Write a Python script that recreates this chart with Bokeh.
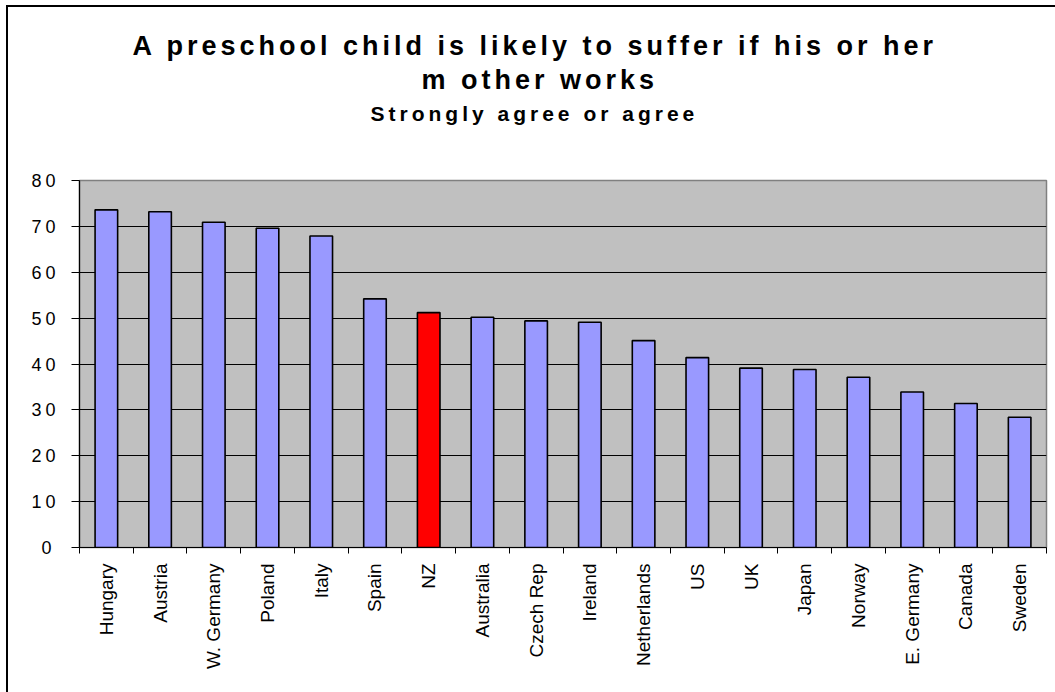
from bokeh.plotting import figure
from bokeh.layouts import column, row
from bokeh.models import ColumnDataSource, FixedTicker, Range1d
from bokeh.core.properties import value
from bokeh.embed import file_html
from bokeh.resources import INLINE

# Share of respondents who strongly agree or agree (%)
countries = ["Hungary", "Austria", "W. Germany", "Poland", "Italy", "Spain", "NZ",
             "Australia", "Czech Rep", "Ireland", "Netherlands", "US", "UK", "Japan",
             "Norway", "E. Germany", "Canada", "Sweden"]
agree = [73.6, 73.2, 70.9, 69.6, 67.9, 54.2, 51.2, 50.2, 49.4, 49.1, 45.1, 41.4,
         39.1, 38.8, 37.1, 33.9, 31.4, 28.4]
highlight = "NZ"
y_ticks = [0, 10, 20, 30, 40, 50, 60, 70, 80]

title_lines = ["A preschool child is likely to suffer if his or her", "m other works"]
subtitle = "Strongly agree or agree"

FONT = "Liberation Sans"
W = 1047            # inner width (inside the chart border)
TITLE_H = 150
MAIN_H = 535
TOP_PAD, BOTTOM_PAD = 23, 145
LABEL_W = 60        # strip carrying the value labels

# ---- heading block -------------------------------------------------------
head = figure(width=W, height=TITLE_H, output_backend="svg", toolbar_location=None,
              x_range=Range1d(0, W), y_range=Range1d(TITLE_H, 0),
              x_axis_type=None, y_axis_type=None, min_border=0,
              outline_line_color=None, background_fill_color="white",
              border_fill_color="white", styles={"letter-spacing": "4px"})
head.text(x=[124, 413], y=[38, 72], text=title_lines,
          text_align="left", text_baseline="middle", text_font=value(FONT),
          text_font_style="bold", text_font_size="27px", text_color="black")
head.text(x=[362], y=[106], text=[subtitle],
          text_align="left", text_baseline="middle", text_font=value(FONT),
          text_font_style="bold", text_font_size="21px", text_color="black")

# ---- bar chart -----------------------------------------------------------
n = len(countries)
centers = [i + 0.5 for i in range(n)]
colors = ["#FF0000" if c == highlight else "#9999FF" for c in countries]
src = ColumnDataSource(dict(x=centers, top=agree, color=colors, name=countries))

y_range = Range1d(0, 80)
p = figure(width=W - LABEL_W, height=MAIN_H, output_backend="svg", toolbar_location=None,
           x_range=Range1d(0, n), y_range=y_range,
           min_border_left=79 - 8 - LABEL_W, min_border_right=9,
           min_border_top=TOP_PAD, min_border_bottom=BOTTOM_PAD,
           background_fill_color="#C0C0C0", border_fill_color="white")
p.outline_line_color = "#808080"
p.outline_line_width = 1.5

p.vbar(x="x", top="top", width=0.42, bottom=0, source=src,
       fill_color="color", line_color="black", line_width=1.6)

# x axis: labels at bar centres, ticks on category boundaries
xa = p.xaxis[0]
xa.ticker = FixedTicker(ticks=centers, minor_ticks=list(range(n + 1)))
xa.major_label_overrides = {c: name for c, name in zip(centers, countries)}
xa.major_label_orientation = 1.5708
xa.major_tick_out = 0
xa.major_tick_in = 0
xa.minor_tick_out = 6
xa.minor_tick_in = 0
xa.minor_tick_line_color = "black"
xa.axis_line_color = "black"
xa.axis_line_width = 1.2
xa.major_label_text_font = FONT
xa.major_label_text_font_size = "19px"
xa.major_label_text_color = "black"
xa.major_label_standoff = 10

# y axis line and ticks; the values are written in the strip on the left
ya = p.yaxis[0]
ya.ticker = FixedTicker(ticks=y_ticks)
ya.minor_tick_line_color = None
ya.major_tick_out = 8
ya.major_tick_in = 0
ya.major_tick_line_color = "black"
ya.axis_line_color = "black"
ya.axis_line_width = 1.2
ya.major_label_overrides = {t: "" for t in y_ticks}
ya.major_label_standoff = 0

p.xgrid.grid_line_color = None
p.ygrid.ticker = FixedTicker(ticks=y_ticks[1:-1])
p.ygrid.grid_line_color = "black"
p.ygrid.grid_line_width = 1.2

# value labels, letter-spaced
lab = figure(width=LABEL_W, height=MAIN_H, output_backend="svg", toolbar_location=None,
             x_range=Range1d(0, 1), y_range=y_range, x_axis_type=None,
             min_border_left=LABEL_W - 1, min_border_right=0,
             min_border_top=TOP_PAD, min_border_bottom=BOTTOM_PAD,
             outline_line_color=None, background_fill_color="white",
             border_fill_color="white", styles={"letter-spacing": "4px"})
la = lab.yaxis[0]
la.ticker = FixedTicker(ticks=y_ticks)
la.axis_line_color = None
la.major_tick_line_color = None
la.minor_tick_line_color = None
la.major_tick_out = 0
la.major_tick_in = 0
la.major_label_text_font = FONT
la.major_label_text_font_size = "18px"
la.major_label_text_color = "black"
la.major_label_standoff = 16
lab.ygrid.grid_line_color = None

# chart border on the enclosing block
layout = column(head, row(lab, p, spacing=0), spacing=0,
                styles={"border-left": "2px solid black", "border-top": "2px solid black",
                        "margin-left": "6px", "margin-top": "5px"})

open("out.html", "w").write(file_html(layout, INLINE))
